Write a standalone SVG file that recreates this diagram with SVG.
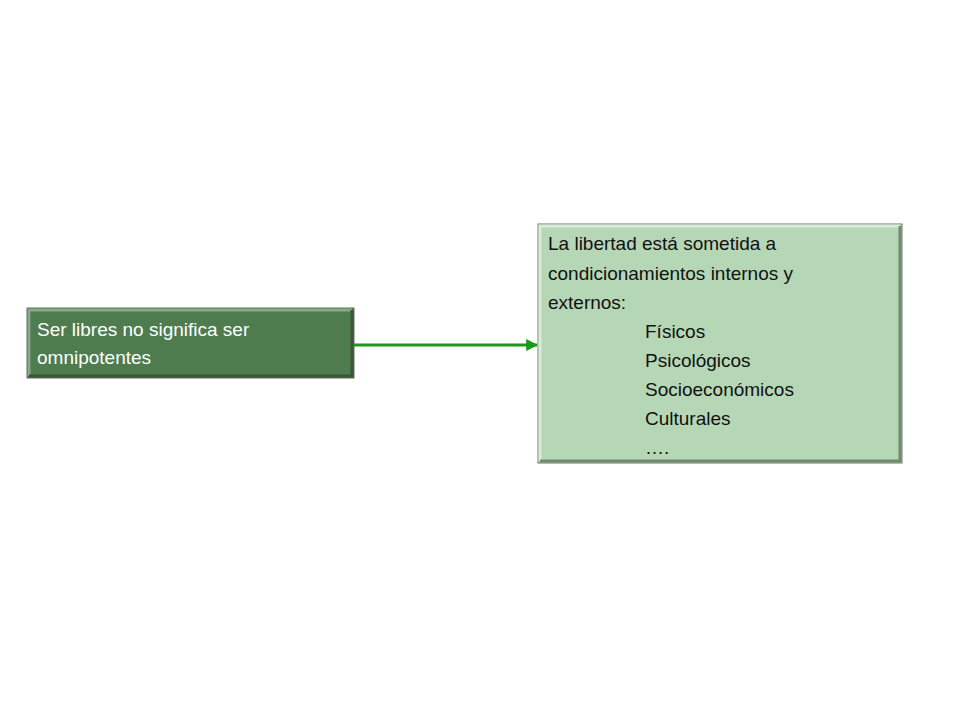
<svg xmlns="http://www.w3.org/2000/svg" width="960" height="720" viewBox="0 0 960 720">
<style>
text{font-family:"Liberation Sans",Arial,sans-serif;font-size:19px}
.bev{fill:none;stroke-width:3}
</style>
<defs><marker id="ah" viewBox="0 0 10 10" refX="9" refY="5" markerWidth="4" markerHeight="4" orient="auto"><path d="M0,0L10,5L0,10z" fill="#1a9a1a"/></marker></defs>
<rect width="960" height="720" fill="#fff"/>
<g id="n1">
<rect x="27" y="308" width="327" height="70" fill="#4e7c4e" stroke="#5f6f5f" stroke-width="1"/>
<path d="M29,376V310H352" stroke="#8aa88a" class="bev"/>
<path d="M29,376H352V310" stroke="#3a553a" class="bev"/>
<text x="37" y="336" fill="#fff">Ser libres no significa ser</text>
<text x="37" y="364" fill="#fff">omnipotentes</text>
</g>
<g id="n2">
<rect x="538" y="224" width="364" height="239" fill="#b6d7b6" stroke="#6a7a6a" stroke-width="1"/>
<path d="M540,461V226H900" stroke="#dceadc" class="bev"/>
<path d="M540,461H900V226" stroke="#6f8a6f" class="bev"/>
<g fill="#111">
<text x="548" y="250">La libertad está sometida  a</text>
<text x="548" y="280">condicionamientos  internos y</text>
<text x="548" y="309">externos:</text>
<text x="645" y="338">Físicos</text>
<text x="645" y="367">Psicológicos</text>
<text x="645" y="396">Socioeconómicos</text>
<text x="645" y="425">Culturales</text>
<text x="645" y="454">….</text>
</g>
</g>
<g id="connectors">
<line x1="354" y1="345" x2="537" y2="345" stroke="#1a9a1a" stroke-width="3" marker-end="url(#ah)"/>
</g>
</svg>
